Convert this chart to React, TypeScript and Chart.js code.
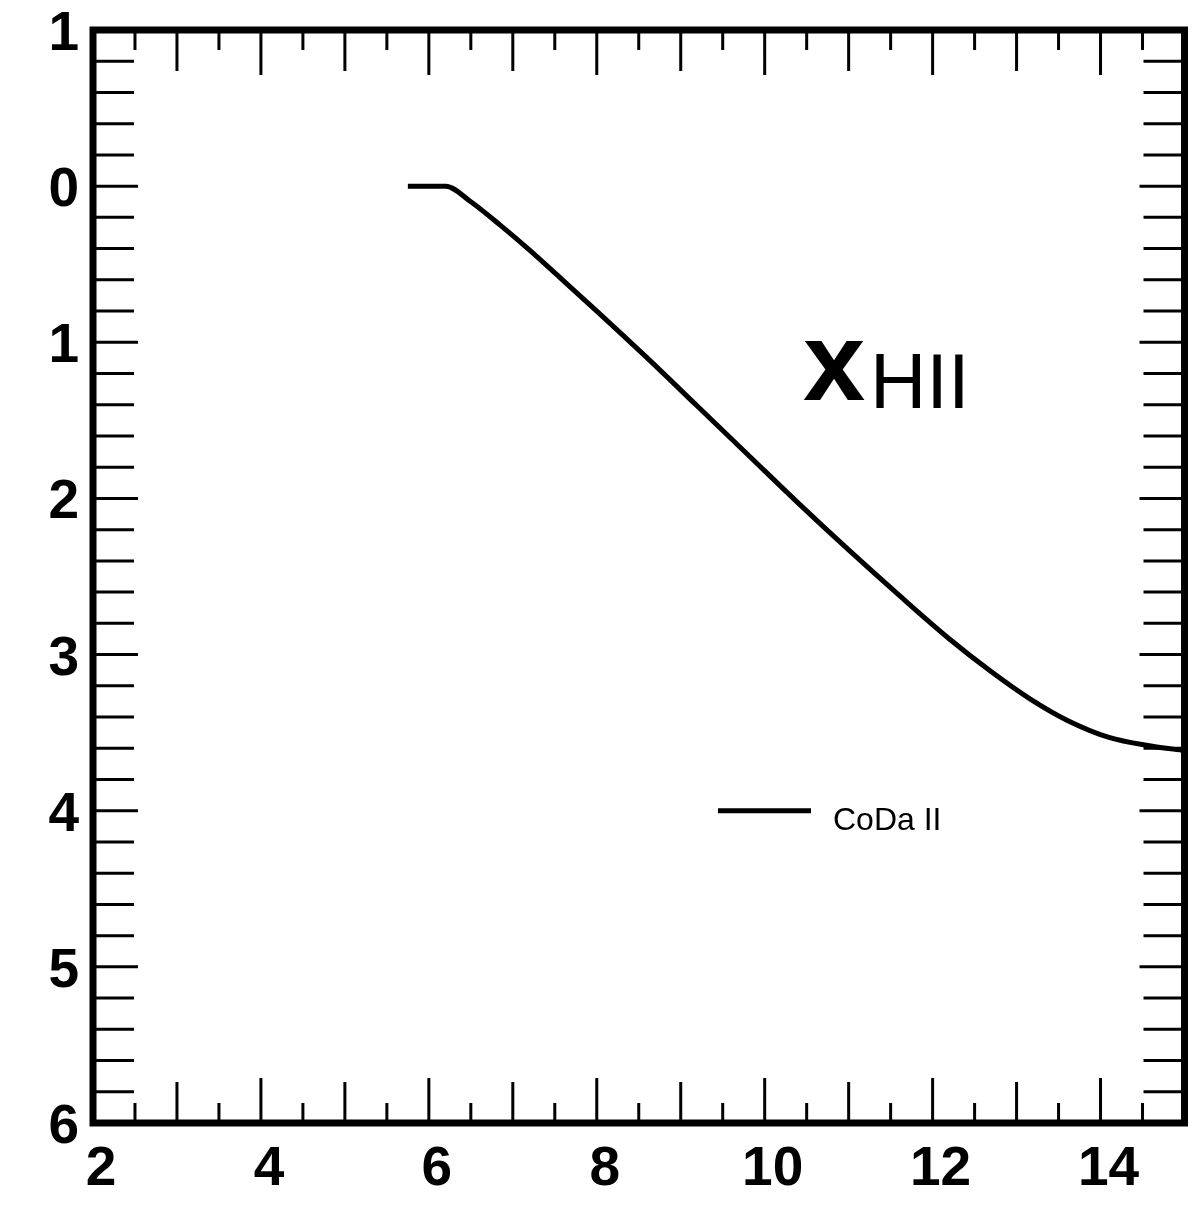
import React, { useEffect, useRef } from "react";
import { Chart, registerables } from "chart.js";

Chart.register(...registerables);

// Redshift (x) and curve value (y, plotted downward)
const redshift = [5.75, 6.2, 6.5, 6.85, 7.2, 7.55, 8.0, 8.6, 9.2, 9.8, 10.4, 11.0, 11.6, 12.2, 12.7, 13.15, 13.6, 14.1, 14.6, 15.0];
const codaValues = [0, 0, 0.1, 0.25, 0.41, 0.58, 0.8, 1.1, 1.41, 1.72, 2.03, 2.33, 2.62, 2.9, 3.11, 3.28, 3.42, 3.53, 3.585, 3.615];

const seriesLabel = "CoDa II";

const xTickValues = [2, 4, 6, 8, 10, 12, 14];
const xTickLabels = ["2", "4", "6", "8", "10", "12", "14"];
const yTickValues = [-1, 0, 1, 2, 3, 4, 5, 6];
const yTickLabels = ["1", "0", "1", "2", "3", "4", "5", "6"];

const X_MIN = 2;
const X_MAX = 15;
const Y_MIN = -1;
const Y_MAX = 6;

const FONT = "'Liberation Sans', Arial, Helvetica, sans-serif";

const framePlugin = {
  id: "frameAndTicks",
  afterDraw(chart: any) {
    const { ctx, chartArea } = chart;
    const xs = chart.scales.x;
    const ys = chart.scales.y;
    const { left, right, top, bottom } = chartArea;

    ctx.save();
    ctx.strokeStyle = "#000";
    ctx.fillStyle = "#000";
    ctx.lineCap = "butt";

    // inward tick marks on all four sides
    ctx.lineWidth = 3;
    ctx.beginPath();
    for (let i = 0; i <= (Y_MAX - Y_MIN) * 5; i++) {
      const v = Y_MIN + i * 0.2;
      const major = i % 5 === 0;
      const len = major ? 45 : 41;
      const py = ys.getPixelForValue(v);
      ctx.moveTo(left, py);
      ctx.lineTo(left + len, py);
      ctx.moveTo(right, py);
      ctx.lineTo(right - len, py);
    }
    for (let i = 0; i <= (X_MAX - X_MIN) * 2; i++) {
      const v = X_MIN + i * 0.5;
      const isInt = i % 2 === 0;
      const len = isInt ? (Math.round(v) % 2 === 0 ? 45 : 41) : 20;
      const px = xs.getPixelForValue(v);
      ctx.moveTo(px, top);
      ctx.lineTo(px, top + len);
      ctx.moveTo(px, bottom);
      ctx.lineTo(px, bottom - len);
    }
    ctx.stroke();

    // heavy frame
    ctx.lineWidth = 7;
    ctx.lineJoin = "miter";
    ctx.strokeRect(left, top, right - left, bottom - top);

    // tick labels
    ctx.font = `bold 55px ${FONT}`;
    ctx.textBaseline = "alphabetic";
    ctx.textAlign = "right";
    yTickValues.forEach((v, i) => {
      ctx.fillText(yTickLabels[i], left - 14, ys.getPixelForValue(v) + 20);
    });
    ctx.textAlign = "center";
    xTickValues.forEach((v, i) => {
      ctx.fillText(xTickLabels[i], xs.getPixelForValue(v) + 8, bottom + 62);
    });

    // legend entry
    const ds = chart.data.datasets[0];
    ctx.strokeStyle = ds.borderColor;
    ctx.lineWidth = ds.borderWidth;
    ctx.beginPath();
    ctx.moveTo(left + 625, ys.getPixelForValue(4));
    ctx.lineTo(left + 718, ys.getPixelForValue(4));
    ctx.stroke();
    ctx.textAlign = "left";
    ctx.font = `32px ${FONT}`;
    ctx.fillText(ds.label, left + 740, ys.getPixelForValue(4) + 19);

    // quantity annotation: x with subscript HII
    ctx.font = `bold 112px ${FONT}`;
    ctx.fillText("x", left + 710, top + 370);
    ctx.font = `78px ${FONT}`;
    ctx.fillText("HII", left + 777, top + 378);

    ctx.restore();
  },
};

export default function App() {
  const canvasRef = useRef<HTMLCanvasElement | null>(null);

  useEffect(() => {
    const canvas = canvasRef.current;
    if (!canvas) return;
    const chart = new Chart(canvas, {
      type: "line",
      data: {
        datasets: [
          {
            label: seriesLabel,
            data: redshift.map((x, i) => ({ x, y: codaValues[i] })),
            borderColor: "#000",
            borderWidth: 5,
            pointRadius: 0,
            cubicInterpolationMode: "monotone",
            fill: false,
          },
        ],
      },
      options: {
        responsive: false,
        animation: false,
        layout: { padding: { left: 93, top: 30, right: 12.5, bottom: 90 } },
        plugins: {
          legend: { display: false },
          tooltip: { enabled: false },
        },
        scales: {
          x: { type: "linear", min: X_MIN, max: X_MAX, display: false },
          y: { type: "linear", min: Y_MIN, max: Y_MAX, reverse: true, display: false },
        },
      },
      plugins: [framePlugin],
    });
    return () => chart.destroy();
  }, []);

  return (
    <div style={{ position: "fixed", left: 0, top: 0, width: 1197, height: 1213, background: "#fff" }}>
      <canvas ref={canvasRef} width={1197} height={1213} style={{ display: "block" }} />
    </div>
  );
}
